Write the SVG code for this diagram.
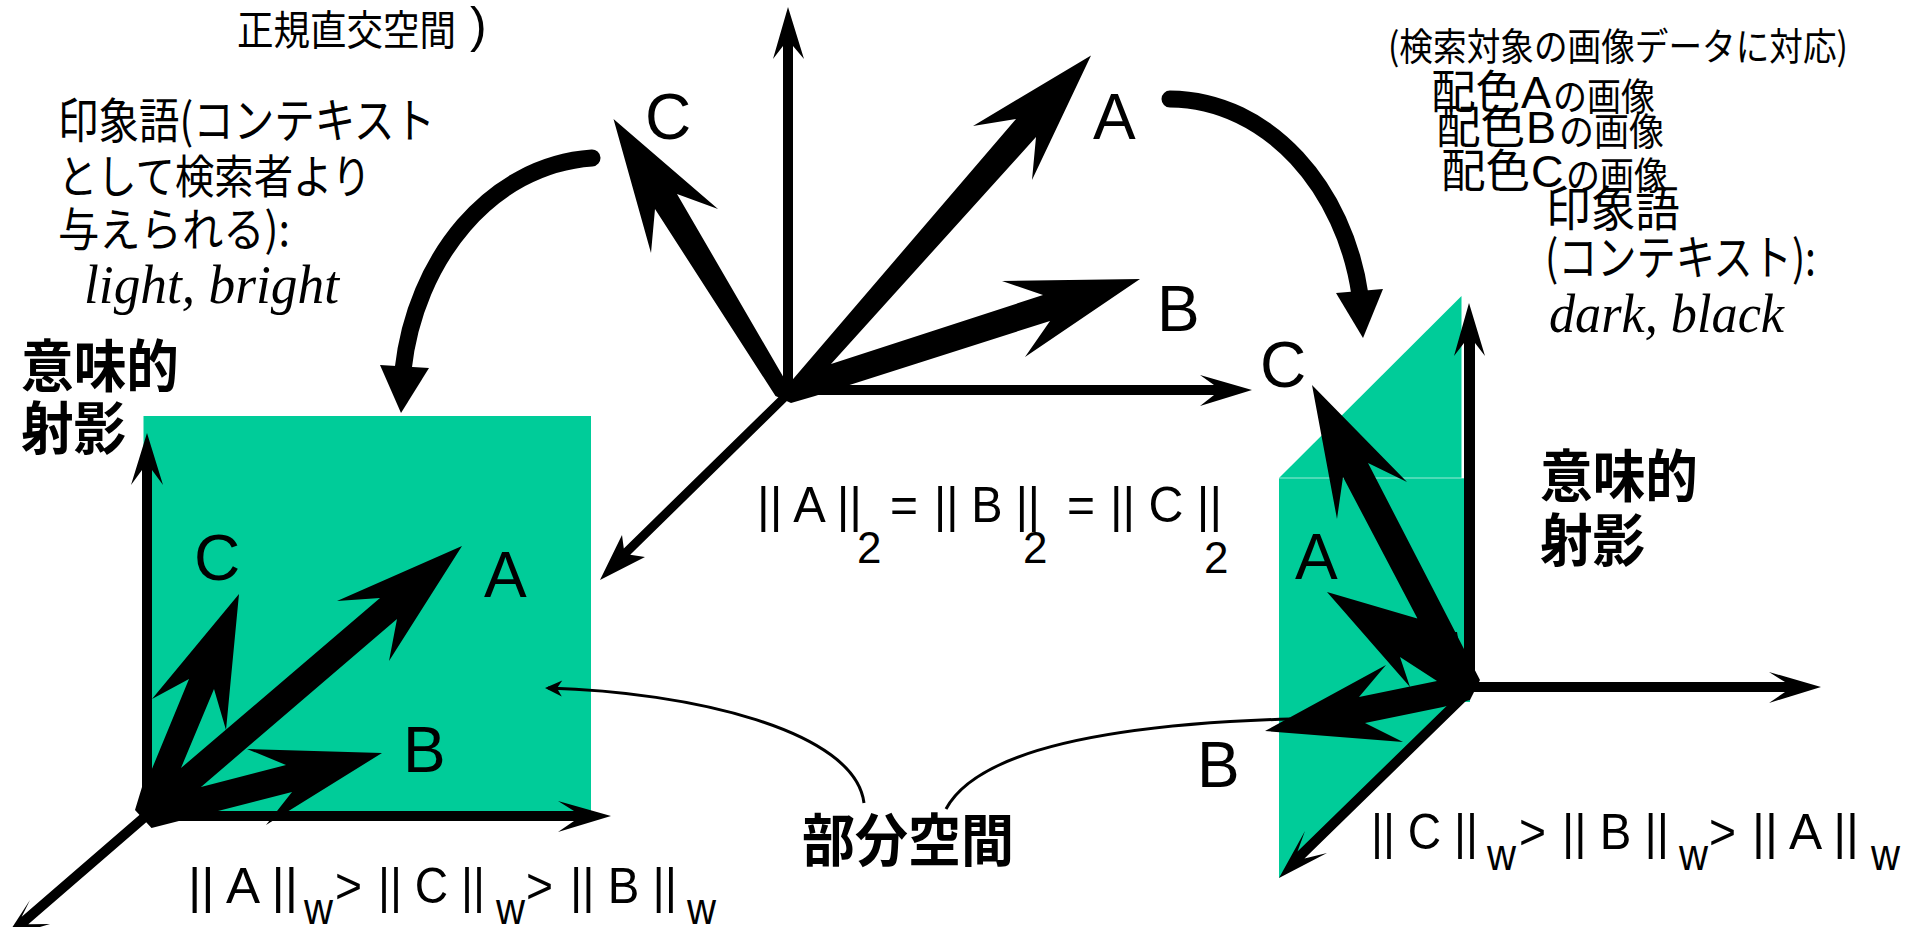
<svg xmlns="http://www.w3.org/2000/svg" width="1907" height="927" viewBox="0 0 1907 927">
<style>
text{font-family:"Liberation Sans","Noto Sans CJK JP",sans-serif;fill:#000}
.jp{font-family:"Noto Sans CJK JP",sans-serif}
.b{font-weight:700;font-size:57px}
.it{font-family:"Liberation Serif",serif;font-style:italic;font-size:54px}
.l{font-size:64px}
.f{font-size:50px}
.s{font-size:44px}
.w{font-size:44px}
.h{fill:#000;stroke:none}
.ln{fill:none;stroke:#000}
.plane{fill:#00cc99}
</style>
<defs>
<marker id="thin" markerUnits="userSpaceOnUse" markerWidth="20" markerHeight="20" refX="15" refY="9" orient="auto"><path d="M18,9 L1,1 L6,9 L1,17 Z" fill="#000"/></marker>
</defs>
<rect width="1907" height="927" fill="#fff"/>
<g id="plane-left"><rect class="plane" x="143.500" y="416" width="447.500" height="400"/></g>
<g id="plane-right"><path class="plane" d="M1279,478 L1461.500,296 L1461.500,478 Z"/><path class="plane" d="M1279,478 L1464,478 L1464,690 L1470,690 L1470,702 L1462,702 L1279,878 Z"/><path d="M1279,478 H1464" fill="none" stroke="#fff" stroke-opacity=".6" stroke-width="1"/></g>
<g id="connectors">
<path class="ln" stroke-width="17" stroke-linecap="round" d="M1170,99 C1270,100 1345,190 1360,295"/>
<path class="h" d="M1336,293 L1383,289 L1363,338 Z"/>
<path class="ln" stroke-width="17" stroke-linecap="round" d="M592,158 C490,165 415,260 403,370"/>
<path class="h" d="M380,365 L429,368 L401,413 Z"/>
<path class="ln" stroke-width="3" marker-end="url(#thin)" d="M864,803 C855,730 690,692 548,688"/>
<path class="ln" stroke-width="3" d="M946,809 C975,755 1090,725 1290,719"/>

<path class="h" d="M783,394 L783,46 L773,59 L788,7 L804,59 L793,46 L793,394 Z"/>
<path class="h" d="M790,385 L1214,385 L1200,375 L1252,390 L1200,406 L1214,395 L790,395 Z"/>
<path class="h" d="M785,390.800 L623.800,548.400 L622,535 L600,580 L645,557 L630.200,554.800 L791,397 Z"/>
<path class="h" d="M788,385 L1016,119 L973,126 L1091,55.500 L1032,180 L1036,137 L831,364 L1043,295 L1002,281 L1140,279 L1025,357 L1050,321 L815,396 L791,403 L775.500,396 L655,209 L651,253 L613.500,119 L718,209 L677,194 Z"/>

<path class="h" d="M142,820 L142,470 L131,485 L147,433 L163,485 L152,470 L152,820 Z"/>
<path class="h" d="M150,811 L574,811 L558,801 L611,816 L558,832 L574,821 L150,821 Z"/>
<path class="h" d="M143.700,811.200 L21.700,916.700 L30,900 L6,937 L50,924 L28.300,924.300 L150.300,818.800 Z"/>
<path class="h" d="M135,810 L142,787 L151.500,770 L189,679 L152,699 L239,594 L226,730 L214,689 L181,768 L380,598 L337,601 L462,546 L389,661 L397,619 L201,787 L286,765 L247,749 L382,753 L266,825 L292,792 L218,811 L151.500,828 Z"/>

<path class="h" d="M1464,690 L1464,343 L1454,356 L1469,303 L1485,356 L1475,343 L1475,690 Z"/>
<path class="h" d="M1465,682 L1785,682 L1769,672 L1821,687 L1769,703 L1785,692 L1465,692 Z"/>
<path class="h" d="M1462,691 L1297.500,851.500 L1305,831 L1279,878 L1327,853 L1304.500,858.500 L1470,697 Z"/>
<path class="h" d="M1434,650 L1343,477 L1337,519 L1312,385 L1407,482 L1368,463 L1480,680 L1470,700 L1443,707 L1365,723 L1403,742 L1265,731 L1386,665 L1359,697 L1437,681 L1400,657 L1410,687 L1327,592 L1419,619 Z"/>
<path class="h" d="M1415,634 L1457,632 L1461,657 Z"/>
</g>
<g id="text-top">
<text class="jp" x="237" y="45" font-size="41" textLength="219" lengthAdjust="spacingAndGlyphs">正規直交空間</text>
<text x="470" y="42" font-size="50">)</text>
</g>
<g id="context-left">
<text class="jp" x="58" y="138" font-size="48" textLength="377" lengthAdjust="spacingAndGlyphs">印象語(コンテキスト</text>
<text class="jp" x="58" y="193" font-size="46" textLength="313" lengthAdjust="spacingAndGlyphs">として検索者より</text>
<text class="jp" x="58" y="246" font-size="46" textLength="232" lengthAdjust="spacingAndGlyphs">与えられる):</text>
<text class="it" x="84" y="303" textLength="255" lengthAdjust="spacingAndGlyphs">light, bright</text>
</g>
<g id="label-left"><text class="jp b" x="21" y="387" textLength="158" lengthAdjust="spacingAndGlyphs">意味的</text><text class="jp b" x="21" y="449" textLength="105" lengthAdjust="spacingAndGlyphs">射影</text></g>
<g id="label-right"><text class="jp b" x="1540" y="497" textLength="158" lengthAdjust="spacingAndGlyphs">意味的</text><text class="jp b" x="1540" y="561" textLength="105" lengthAdjust="spacingAndGlyphs">射影</text></g>
<g id="label-subspace"><text class="jp b" x="802" y="861" textLength="212" lengthAdjust="spacingAndGlyphs">部分空間</text></g>
<g id="images">
<text class="jp" x="1388" y="60" font-size="38" textLength="460" lengthAdjust="spacingAndGlyphs">(検索対象の画像データに対応)</text>
<text class="jp" x="1431" y="108" font-size="46" textLength="89" lengthAdjust="spacingAndGlyphs">配色</text><text x="1521" y="108" font-size="45">A</text><text class="jp" x="1553" y="110" font-size="38" textLength="102" lengthAdjust="spacingAndGlyphs">の画像</text>
<text class="jp" x="1436" y="143" font-size="46" textLength="89" lengthAdjust="spacingAndGlyphs">配色</text><text x="1526" y="143" font-size="45">B</text><text class="jp" x="1559" y="145" font-size="38" textLength="105" lengthAdjust="spacingAndGlyphs">の画像</text>
<text class="jp" x="1441" y="187" font-size="46" textLength="89" lengthAdjust="spacingAndGlyphs">配色</text><text x="1531" y="187" font-size="45">C</text><text class="jp" x="1566" y="189" font-size="38" textLength="102" lengthAdjust="spacingAndGlyphs">の画像</text>
</g>
<g id="context-right">
<text class="jp" x="1546" y="226" font-size="48" textLength="134" lengthAdjust="spacingAndGlyphs">印象語</text>
<text class="jp" x="1545" y="275" font-size="48" textLength="271" lengthAdjust="spacingAndGlyphs">(コンテキスト):</text>
<text class="it" x="1549" y="332" textLength="235" lengthAdjust="spacingAndGlyphs">dark, black</text>
</g>
<g id="vector-labels">
<text class="l" x="645" y="139">C</text><text class="l" x="1093" y="139">A</text><text class="l" x="1157" y="331">B</text>
<text class="l" x="194" y="580">C</text><text class="l" x="484" y="597">A</text><text class="l" x="403" y="772">B</text>
<text class="l" x="1260" y="387">C</text><text class="l" x="1295" y="579">A</text><text class="l" x="1197" y="787">B</text>
</g>
<g id="norm-center">
<text class="f" x="757" y="522" textLength="105" lengthAdjust="spacingAndGlyphs">|| A ||</text><text class="s" x="857" y="563">2</text><text class="f" x="890" y="522" textLength="28" lengthAdjust="spacingAndGlyphs">=</text>
<text class="f" x="934" y="522" textLength="106" lengthAdjust="spacingAndGlyphs">|| B ||</text><text class="s" x="1023" y="563">2</text><text class="f" x="1067" y="522" textLength="28" lengthAdjust="spacingAndGlyphs">=</text>
<text class="f" x="1110" y="522" textLength="112" lengthAdjust="spacingAndGlyphs">|| C ||</text><text class="s" x="1204" y="573">2</text>
</g>
<g id="norm-left">
<text class="f" x="188" y="903" textLength="110" lengthAdjust="spacingAndGlyphs">|| A ||</text><text class="w" x="304" y="924" textLength="29" lengthAdjust="spacingAndGlyphs">w</text><text class="f" x="335" y="903" textLength="27" lengthAdjust="spacingAndGlyphs">&gt;</text>
<text class="f" x="378" y="903" textLength="107" lengthAdjust="spacingAndGlyphs">|| C ||</text><text class="w" x="496" y="924" textLength="29" lengthAdjust="spacingAndGlyphs">w</text><text class="f" x="526" y="903" textLength="27" lengthAdjust="spacingAndGlyphs">&gt;</text>
<text class="f" x="570" y="903" textLength="107" lengthAdjust="spacingAndGlyphs">|| B ||</text><text class="w" x="687" y="924" textLength="29" lengthAdjust="spacingAndGlyphs">w</text>
</g>
<g id="norm-right">
<text class="f" x="1371" y="849" textLength="107" lengthAdjust="spacingAndGlyphs">|| C ||</text><text class="w" x="1487" y="870" textLength="29" lengthAdjust="spacingAndGlyphs">w</text><text class="f" x="1519" y="849" textLength="27" lengthAdjust="spacingAndGlyphs">&gt;</text>
<text class="f" x="1562" y="849" textLength="107" lengthAdjust="spacingAndGlyphs">|| B ||</text><text class="w" x="1679" y="870" textLength="29" lengthAdjust="spacingAndGlyphs">w</text><text class="f" x="1709" y="849" textLength="27" lengthAdjust="spacingAndGlyphs">&gt;</text>
<text class="f" x="1752" y="849" textLength="107" lengthAdjust="spacingAndGlyphs">|| A ||</text><text class="w" x="1871" y="870" textLength="29" lengthAdjust="spacingAndGlyphs">w</text>
</g>
</svg>
